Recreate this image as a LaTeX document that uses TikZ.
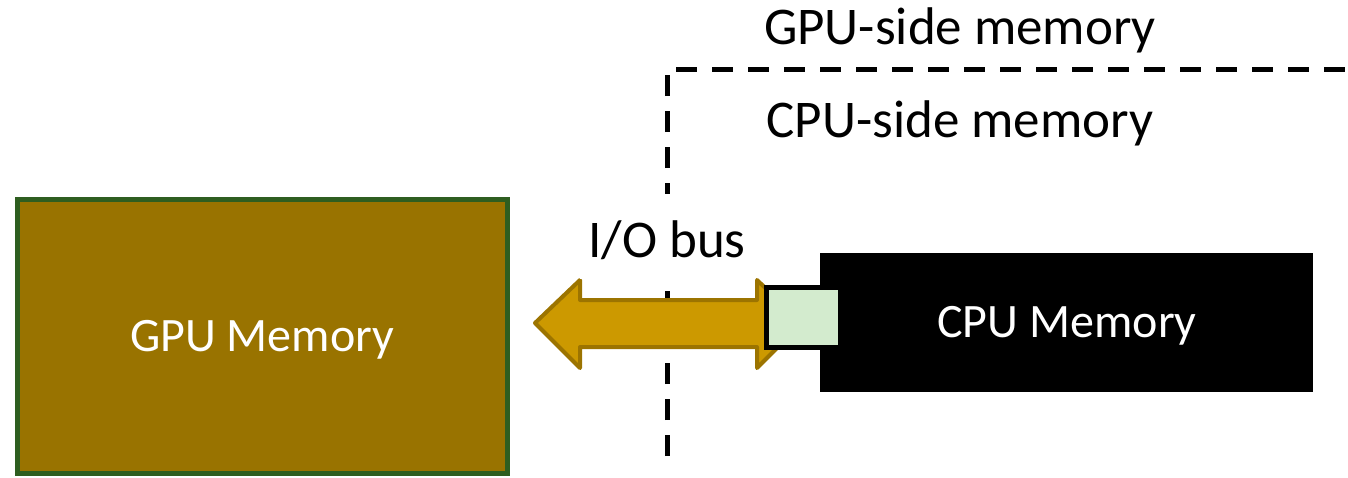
\documentclass[tikz,border=0pt]{standalone}
\usepackage{fontspec}
\setmainfont{Carlito}
\definecolor{gpufill}{HTML}{997300}
\definecolor{gpuedge}{HTML}{2E5E20}
\definecolor{busfill}{HTML}{CC9900}
\definecolor{busedge}{HTML}{9C7400}
\definecolor{portfill}{HTML}{D3EBCE}
\tikzset{
  big/.style={font=\fontsize{53}{60}\selectfont, inner sep=0pt},
  boxlabel/.style={font=\fontsize{48}{56}\selectfont, text=white, inner sep=0pt},
  divider/.style={line width=5pt, dash pattern=on 21pt off 15pt},
}
\begin{document}
\begin{tikzpicture}[x=1pt,y=-1pt]
\useasboundingbox (0,0) rectangle (1348,477);
% divider
\coordinate (dtop) at (667,456);
\coordinate (dcorner) at (667,69);
\coordinate (dend) at (1348,69);
\draw[divider] (dtop) -- (dcorner) -- (dend);
\node[big] (gside) at (960,30) {GPU-side memory};
\node[big] (cside) at (960,123) {CPU-side memory};
% GPU memory
\node[draw=gpuedge, line width=5pt, fill=gpufill, minimum width=490pt, minimum height=274pt, inner sep=0pt] (gpu) at (262,336.5) {};
\node[boxlabel] (gpulbl) at (262,340) {GPU Memory};
% I/O bus arrow
\draw[busedge, line width=4pt, fill=busfill, line join=round]
  (535,323) -- (580,280) -- (580,300) -- (757,300) -- (757,280) -- (802,323)
  -- (757,368) -- (757,347) -- (580,347) -- (580,368) -- cycle;
\node[fill=white, minimum width=175pt, minimum height=85pt, inner sep=0pt] (busbg) at (667,236) {};
\node[big] (bus) at (667,240) {I/O bus};
% CPU memory
\node[fill=black, minimum width=493pt, minimum height=139pt, inner sep=0pt] (cpu) at (1066.5,322.5) {};
\node[boxlabel] (cpulbl) at (1067,326) {CPU Memory};
\node[draw=black, line width=5pt, fill=portfill, minimum width=74pt, minimum height=60pt, inner sep=0pt] (port) at (803,317) {};
\end{tikzpicture}
\end{document}
